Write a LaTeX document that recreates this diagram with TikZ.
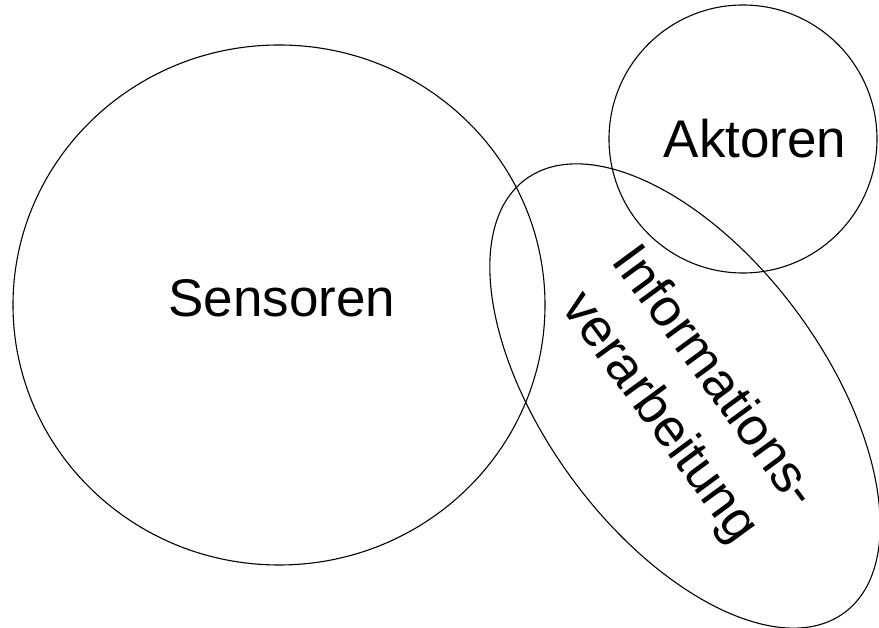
\documentclass[tikz,border=0pt]{standalone}
\usepackage{fontspec}
\setmainfont{Liberation Sans}
\begin{document}
\begin{tikzpicture}[x=1pt,y=1pt,
  outline/.style={draw=black,line width=1.1pt},
  bigtext/.style={font=\fontsize{53}{68}\selectfont,inner sep=0pt}]
\useasboundingbox[fill=white] (0,0) rectangle (879,628);
% the three areas
\draw[outline] (279,323) ellipse [x radius=266, y radius=260];
\draw[outline] (743,489) circle [radius=134];
\draw[outline,rotate around={-53.7:(685,232)}] (685,232) ellipse [x radius=269, y radius=140];
% labels
\node[bigtext,anchor=base] (sensoren) at (282,311) {Sensoren};
\node[bigtext,anchor=base] (aktoren) at (755,470) {Aktoren};
\node[bigtext,align=center,rotate=-53.7] (info) at (686,230) {Informations-\\verarbeitung};
\end{tikzpicture}
\end{document}
